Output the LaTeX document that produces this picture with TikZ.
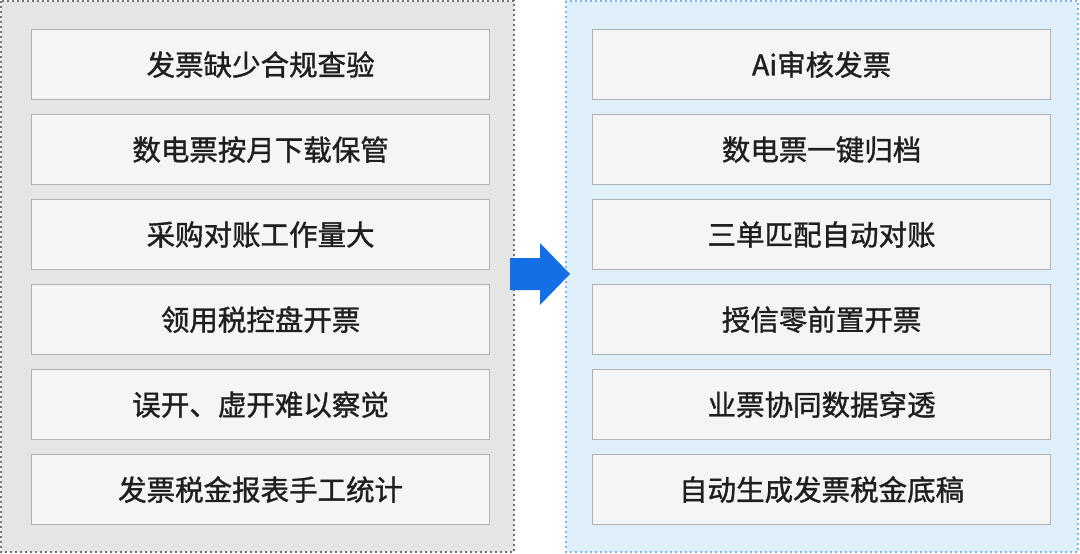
\documentclass[tikz,border=0pt]{standalone}
\usepackage{fontspec}
\setmainfont{Noto Sans CJK SC}[FakeBold=1.2]
\begin{document}
\begin{tikzpicture}[x=1pt,y=-1pt,
  item/.style={draw=black!30,line width=1.2pt,fill=black!4,minimum width=458pt,minimum height=70pt,font=\fontsize{28.5}{32}\selectfont,text=black!88,anchor=north west,inner sep=0pt}]
\useasboundingbox (0,0) rectangle (1080,554);
\draw[fill=black!10,draw=black!55,line width=1.2pt,dash pattern=on 2pt off 3pt] (1,1) rectangle (514,552);
\draw[fill={rgb,255:red,224;green,240;blue,251},draw={rgb,255:red,120;green,180;blue,250},line width=1.2pt,dash pattern=on 2pt off 3pt] (566,1) rectangle (1078,552);
\foreach \t [count=\i from 0] in {发票缺少合规查验,数电票按月下载保管,采购对账工作量大,领用税控盘开票,误开、虚开难以察觉,发票税金报表手工统计}
  \node[item] (l\i) at (31,{29+85*\i}) {\t};
\foreach \t [count=\i from 0] in {Ai审核发票,数电票一键归档,三单匹配自动对账,授信零前置开票,业票协同数据穿透,自动生成发票税金底稿}
  \node[item] (r\i) at (592,{29+85*\i}) {\t};
\fill[fill={rgb,255:red,20;green,110;blue,230}] (510,258) -- (540,258) -- (540,243) -- (570,274) -- (540,305) -- (540,290) -- (510,290) -- cycle;
\end{tikzpicture}
\end{document}
